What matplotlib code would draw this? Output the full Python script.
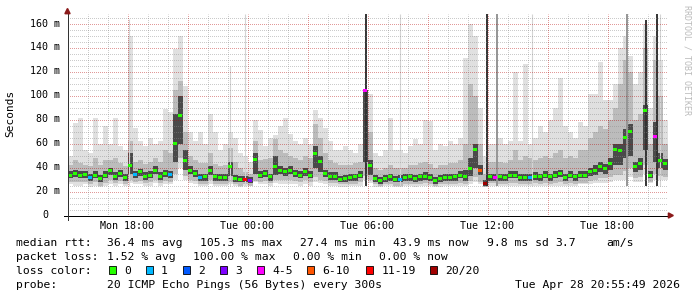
import numpy as np
import matplotlib
matplotlib.use("Agg")
import matplotlib.pyplot as plt
from matplotlib.patches import Polygon, Rectangle

W, H = 697, 297
MONO = "DejaVu Sans Mono"

# 15 minute bins, hours counted from Mon 00:00, first bin starts Mon 15:00
t_start = 15.0
bin_h = 0.25

median = [
    33.6, 35, 33.6, 34.4, 31.7, 33.6, 30.8, 33.6, 37.2, 32.8,
    35, 31.7, 42, 34.4, 36.4, 32.8, 33.6, 37.8, 32.8, 35,
    34.4, 60, 83.6, 46, 37.8, 35, 31.7, 32.2, 37.8, 32.2,
    31.7, 31.7, 41, 30.8, 30.3, 30, 29, 47, 33.6, 35,
    32.2, 41, 37.8, 36.4, 37.8, 35, 33.6, 36.4, 33.6, 52,
    45, 35, 32.8, 32.8, 30.3, 30.8, 31.7, 32.2, 33.6, 104,
    42, 30.8, 28.9, 30.8, 32.2, 30, 30.3, 31.7, 32.2, 30.8,
    32.2, 32.8, 31.7, 28.9, 30.8, 31.7, 31.7, 32.2, 33.6, 32.2,
    39, 55, 37.8, 27, 32.2, 32, 32.2, 31.7, 33.6, 33.6,
    31.7, 31.7, 31.7, 32.8, 32.2, 33.6, 32.2, 33.6, 35, 31.7,
    33.6, 32.2, 33.6, 33.6, 36.4, 37.8, 40.6, 39, 43, 55,
    54.4, 65, 69.7, 40.6, 43, 87.8, 33.6, 65.6, 46, 43,
]

# index into loss_labels / loss_colors
loss = [
    0, 0, 0, 0, 1, 0, 0, 0, 0, 0,
    0, 0, 0, 1, 0, 0, 0, 0, 0, 0,
    1, 0, 0, 0, 0, 0, 1, 0, 0, 0,
    0, 0, 0, 0, 0, 6, 3, 0, 0, 0,
    0, 0, 0, 0, 0, 0, 0, 0, 0, 0,
    0, 0, 0, 0, 0, 0, 0, 0, 0, 4,
    0, 0, 0, 0, 0, 0, 1, 0, 0, 0,
    0, 0, 0, 0, 0, 0, 0, 0, 0, 0,
    0, 0, 5, 7, 0, 4, 0, 0, 0, 0,
    0, 0, 1, 0, 0, 0, 0, 0, 0, 0,
    0, 0, 0, 0, 0, 0, 0, 0, 0, 0,
    0, 0, 0, 0, 0, 0, 0, 4, 0, 0,
]

# smoke envelope (ms): outer light band, medium band, dark core round the median
smoke_lo = [
    26, 25, 25, 26, 24, 25, 24, 25, 26, 25,
    26, 25, 27, 26, 26, 25, 25, 27, 25, 26,
    26, 30, 40, 30, 27, 26, 25, 25, 26, 25,
    25, 25, 26, 25, 24, 25, 25, 28, 26, 26,
    25, 27, 26, 26, 26, 26, 25, 26, 25, 28,
    27, 26, 25, 25, 24, 24, 25, 25, 25, 30,
    27, 24, 24, 25, 25, 24, 24, 25, 25, 24,
    25, 25, 25, 24, 24, 25, 25, 25, 25, 25,
    26, 28, 26, 24, 25, 25, 25, 25, 25, 25,
    25, 25, 25, 25, 25, 25, 25, 25, 25, 25,
    25, 25, 26, 26, 26, 27, 27, 27, 28, 30,
    30, 30, 32, 28, 28, 35, 27, 30, 30, 30,
]
smoke_mlo = [
    28, 28, 28, 28, 26, 28, 25, 27, 30, 27,
    29, 26, 30, 28, 29, 27, 28, 30, 27, 29,
    28, 35, 48, 33, 30, 29, 26, 26, 30, 26,
    26, 26, 28, 26, 25, 26, 25, 29, 28, 29,
    27, 30, 30, 30, 30, 29, 28, 30, 28, 32,
    30, 29, 27, 27, 26, 26, 26, 26, 28, 33,
    30, 26, 25, 26, 26, 25, 25, 26, 26, 26,
    26, 27, 26, 25, 26, 26, 26, 26, 27, 26,
    29, 32, 28, 24, 27, 27, 26, 26, 27, 27,
    26, 26, 26, 27, 26, 27, 26, 27, 28, 26,
    27, 26, 27, 27, 29, 30, 31, 31, 32, 34,
    34, 37, 40, 31, 32, 42, 28, 35, 33, 32,
]
smoke_dlo = [
    31, 32, 31, 31, 29, 31, 28, 31, 34, 30,
    32, 29, 35, 31, 33, 30, 31, 35, 30, 32,
    31, 45, 60, 38, 35, 32, 29, 29, 34, 29,
    29, 29, 33, 28, 28, 28, 27, 35, 31, 32,
    29, 34, 35, 33, 35, 32, 31, 33, 31, 40,
    36, 32, 30, 30, 28, 28, 29, 29, 31, 45,
    34, 28, 26, 28, 29, 28, 28, 29, 29, 28,
    29, 30, 29, 26, 28, 29, 29, 29, 31, 29,
    33, 40, 34, 25, 29, 29, 29, 29, 31, 31,
    29, 29, 29, 30, 29, 31, 29, 31, 32, 29,
    31, 29, 31, 31, 33, 34, 36, 35, 38, 42,
    42, 48, 50, 36, 38, 55, 31, 45, 40, 38,
]
smoke_dhi = [
    37, 38, 37, 37, 35, 37, 34, 37, 40, 36,
    38, 35, 52, 37, 39, 36, 37, 41, 36, 38,
    37, 85, 100, 55, 41, 38, 35, 35, 41, 35,
    35, 35, 45, 34, 33, 33, 32, 52, 37, 38,
    35, 50, 41, 40, 41, 38, 37, 40, 37, 58,
    50, 38, 36, 36, 33, 34, 35, 35, 37, 105,
    46, 34, 32, 34, 35, 33, 34, 35, 35, 34,
    35, 36, 35, 32, 34, 35, 35, 35, 37, 38,
    48, 60, 42, 30, 35, 35, 35, 35, 37, 37,
    35, 35, 35, 36, 35, 37, 35, 37, 38, 35,
    37, 35, 37, 37, 40, 42, 45, 43, 48, 60,
    60, 72, 76, 45, 48, 92, 37, 78, 52, 47,
]
smoke_mhi = [
    42, 46, 44, 42, 41, 48, 42, 46, 46, 48,
    44, 41, 62, 45, 46, 43, 45, 48, 45, 55,
    52, 105, 112, 70, 50, 46, 44, 44, 52, 43,
    41, 42, 56, 45, 40, 36, 35, 62, 46, 47,
    48, 64, 55, 52, 50, 48, 46, 50, 48, 76,
    65, 52, 46, 44, 42, 42, 42, 44, 45, 105,
    70, 40, 38, 40, 42, 40, 40, 40, 42, 42,
    44, 45, 43, 40, 42, 42, 44, 44, 46, 60,
    110, 100, 60, 35, 45, 45, 45, 44, 46, 55,
    46, 50, 48, 46, 48, 50, 48, 52, 55, 48,
    50, 48, 55, 55, 65, 70, 75, 72, 80, 90,
    110, 130, 120, 80, 85, 140, 60, 130, 100, 60,
]
smoke_hi = [
    50, 77, 81, 55, 52, 81, 60, 75, 60, 81,
    58, 55, 150, 73, 62, 58, 65, 60, 62, 89,
    86, 139, 150, 108, 70, 62, 70, 60, 85, 70,
    55, 60, 70, 65, 52, 50, 45, 80, 71, 58,
    65, 67, 75, 81, 68, 62, 60, 65, 60, 88,
    81, 73, 62, 55, 55, 58, 55, 52, 60, 105,
    101, 52, 50, 55, 81, 55, 55, 52, 58, 64,
    60, 80, 79, 55, 60, 58, 62, 60, 65, 131,
    160, 150, 90, 50, 60, 60, 65, 60, 62, 120,
    62, 126, 60, 65, 75, 70, 80, 90, 115, 75,
    70, 65, 78, 75, 101, 101, 128, 96, 96, 110,
    140, 150, 133, 110, 120, 160, 90, 150, 130, 80,
]

# narrow single-step spikes
spike_t = [18.07, 23.12, 23.87, 29.9, 31.62, 35.97, 36.47, 38.22, 42.97, 43.92, 44.47, 44.62]
spike_top = [164, 125, 168, 168, 168, 168, 168, 168, 168, 163, 168, 168]
spike_shade = ['light', 'light', 'light', 'dark', 'light', 'dark', 'mid', 'light', 'mid', 'dark', 'dark', 'light']

loss_labels = ['0', '1', '2', '3', '4-5', '6-10', '11-19', '20/20']
loss_colors = ['#26ff00', '#00b8ff', '#0059ff', '#7e00ff', '#ff00ff', '#ff5500', '#ff0000', '#a10000']

y_ticks = [0, 20, 40, 60, 80, 100, 120, 140, 160]
y_ticklabels = ['0', '20 m', '40 m', '60 m', '80 m', '100 m', '120 m', '140 m', '160 m']
x_ticks = [18, 24, 30, 36, 42]
x_ticklabels = ['Mon 18:00', 'Tue 00:00', 'Tue 06:00', 'Tue 12:00', 'Tue 18:00']

rtt_stats = ['median rtt:', '36.4 ms avg', '105.3 ms max', '27.4 ms min', '43.9 ms now', '9.8 ms sd', '3.7', 'am/s']
loss_stats = ['packet loss:', '1.52 % avg', '100.00 % max', '0.00 % min', '0.00 % now']
probe_text = ['probe:', '20 ICMP Echo Pings (56 Bytes) every 300s']
stamp = 'Tue Apr 28 20:55:49 2026'


def fx(px):
    return px / W


def fy(py):
    return 1 - py / H


# plot area placed on pixel centres so the 1px dotted grid stays crisp
X0, Y0 = 67.5, 215.5
fig = plt.figure(figsize=(W / 100, H / 100), dpi=100, facecolor='white')
ax = fig.add_axes([fx(X0), fy(Y0), 600 / W, 201.6 / H])
ax.set_xlim(15, 45)
ax.set_ylim(0, 168)
for s in ax.spines.values():
    s.set_visible(False)

n = len(median)
edges = t_start + bin_h * np.arange(n + 1)
centers = t_start + bin_h * (np.arange(n) + 0.5)


def ext(a):
    return np.append(a, a[-1])


ax.fill_between(edges, ext(smoke_lo), ext(smoke_hi), step='post', color='#e0e0e0', lw=0, zorder=1)
ax.fill_between(edges, ext(smoke_mlo), ext(smoke_mhi), step='post', color='#bcbcbc', lw=0, zorder=1.1)
ax.fill_between(edges, ext(smoke_dlo), ext(smoke_dhi), step='post', color='#4a4a4a', lw=0, zorder=1.2)

shade = {'light': ('#d4d4d4', 0.8), 'mid': ('#959595', 1.4), 'dark': ('#333333', 1.4)}
for t, top, sh in zip(spike_t, spike_top, spike_shade):
    ax.vlines(t, 25, top, colors=shade[sh][0], lw=shade[sh][1], zorder=1.3)

# dotted translucent grid over the smoke, rrdtool style
dots = (0.5, (1, 1))
for v in range(5, 170, 5):
    col, a = ('#8c8c8c', 0.45) if v % 20 else ('#b40000', 0.4)
    ax.axhline(v, color=col, alpha=a, lw=0.72, ls=dots, zorder=2)
for h in range(16, 45):
    col, a = ('#8c8c8c', 0.45) if h % 3 else ('#b40000', 0.4)
    ax.axvline(h, color=col, alpha=a, lw=0.72, ls=dots, zorder=2)

ax.scatter(centers, median, c=[loss_colors[k] for k in loss], marker='s', s=5, linewidths=0, zorder=4)

# axes with arrows
ax.plot([-4 / 600, 1.002], [0, 0], transform=ax.transAxes, color='black', lw=0.72, clip_on=False, zorder=5)
ax.plot([0, 0], [-4 / 201.6, 1.002], transform=ax.transAxes, color='#333333', lw=0.72, clip_on=False, zorder=5)
arrow_col = '#8b1a1a'
ax.add_patch(Polygon([[1.0015, 2.6 / 201.6], [1.0015, -2.6 / 201.6], [1.0097, 0]], closed=True,
                     transform=ax.transAxes, color=arrow_col, clip_on=False, zorder=6))
ax.add_patch(Polygon([[-2.6 / 600, 1.001], [2.6 / 600, 1.001], [0, 1.027]], closed=True,
                     transform=ax.transAxes, color=arrow_col, clip_on=False, zorder=6))

ax.set_xticks(x_ticks)
ax.set_xticklabels(x_ticklabels, fontsize=7.2, family=MONO)
ax.tick_params(axis='x', length=0, pad=3.9)
ax.set_yticks([])
ytr = ax.get_yaxis_transform()
for v, lab in zip(y_ticks, y_ticklabels):
    right = 48 if lab == '0' else 60.5
    ax.text((right - X0) / 600, v, lab, transform=ytr, ha='right', va='center',
            fontsize=7.2, family=MONO)

fig.text(fx(10), fy(113), 'Seconds', rotation=90, ha='center', va='center', fontsize=8, family=MONO)
fig.text(fx(687), fy(60), 'RRDTOOL / TOBI OETIKER', rotation=270, ha='center', va='center',
         fontsize=6, family=MONO, color='#bbbbbb')

# legend block
fs = 8.2
for txt, x in zip(rtt_stats, [16, 107.3, 200, 300, 393.3, 486.7, 555, 606.7]):
    fig.text(fx(x), fy(245.6), txt, fontsize=fs, family=MONO, va='baseline')
for txt, x in zip(loss_stats, [16, 107.3, 193.3, 293.3, 379.3]):
    fig.text(fx(x), fy(259.6), txt, fontsize=fs, family=MONO, va='baseline')
fig.text(fx(16), fy(273.6), 'loss color:', fontsize=fs, family=MONO, va='baseline')
box_x = [108.7, 145.7, 182.7, 219.7, 256.7, 306.7, 366, 430]
for bx, lab, col in zip(box_x, loss_labels, loss_colors):
    fig.patches.append(Rectangle((fx(bx), fy(273.5)), 7 / W, 8 / H, transform=fig.transFigure,
                                 facecolor=col, edgecolor='black', lw=0.6))
    fig.text(fx(bx + 15.3), fy(273.6), lab, fontsize=fs, family=MONO, va='baseline')
for txt, x in zip(probe_text, [16, 107.3]):
    fig.text(fx(x), fy(287.6), txt, fontsize=fs, family=MONO, va='baseline')
fig.text(fx(680), fy(287.6), stamp, fontsize=fs, family=MONO, va='baseline', ha='right')

fig.savefig('out.png', dpi=100, facecolor='white')
